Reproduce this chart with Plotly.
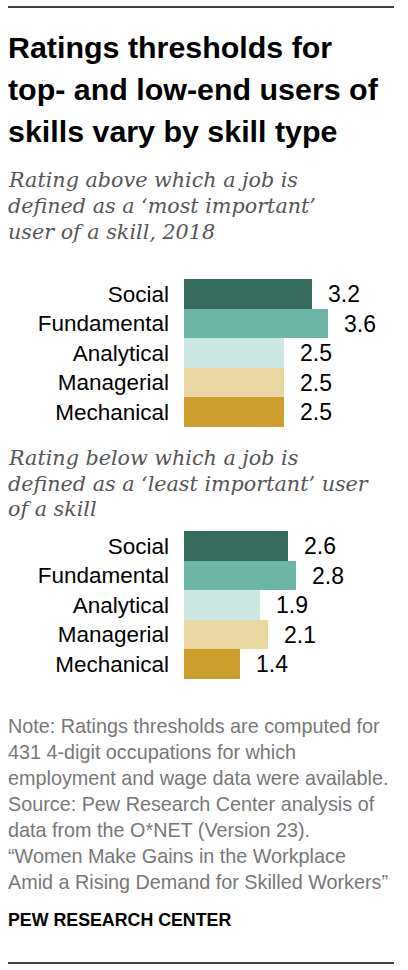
import plotly.graph_objects as go

W, H = 408, 970

# data
skills = ["Social", "Fundamental", "Analytical", "Managerial", "Mechanical"]
top_threshold = [3.2, 3.6, 2.5, 2.5, 2.5]
low_threshold = [2.6, 2.8, 1.9, 2.1, 1.4]
bar_colors = ["#356b5d", "#6db5a5", "#cae6e0", "#ebd7a3", "#cc9f2e"]

title_lines = ["Ratings thresholds for", "top- and low-end users of", "skills vary by skill type"]
sub1_lines = ["Rating above which a job is", "defined as a \u2018most important\u2019", "user of a skill, 2018"]
sub2_lines = ["Rating below which a job is", "defined as a \u2018least important\u2019 user", "of a skill"]
note_lines = [
    "Note: Ratings thresholds are computed for",
    "431 4-digit occupations for which",
    "employment and wage data were available.",
    "Source: Pew Research Center analysis of",
    "data from the O*NET (Version 23).",
    "\u201cWomen Make Gains in the Workplace",
    "Amid a Rising Demand for Skilled Workers\u201d",
]


def py(px):
    # pixel row -> paper y
    return 1 - px / H


fig = go.Figure()
fig.add_trace(go.Bar(x=top_threshold, y=skills, orientation="h",
                     marker=dict(color=bar_colors, line_width=0),
                     xaxis="x", yaxis="y", hoverinfo="skip"))
fig.add_trace(go.Bar(x=low_threshold, y=skills, orientation="h",
                     marker=dict(color=bar_colors, line_width=0),
                     xaxis="x2", yaxis="y2", hoverinfo="skip"))

x_dom = [184 / W, 1]
x_rng = [0, (W - 184) / 40]
xa = dict(domain=x_dom, range=x_rng, visible=False, fixedrange=True)
ya = dict(autorange="reversed", showgrid=False, zeroline=False, showline=False,
          ticks="", ticklabelstandoff=14, fixedrange=True,
          tickfont=dict(family="Liberation Sans, Arial, sans-serif", size=22.5, color="#000"))

fig.update_layout(
    width=W, height=H,
    margin=dict(l=0, r=0, t=0, b=0),
    paper_bgcolor="white", plot_bgcolor="white",
    showlegend=False, bargap=0,
    xaxis=dict(xa, anchor="y"),
    yaxis=dict(ya, domain=[py(427), py(279)], anchor="x"),
    xaxis2=dict(xa, anchor="y2"),
    yaxis2=dict(ya, domain=[py(679), py(531)], anchor="x2"),
)

annots = []
# value labels
for ax, vals in (("", top_threshold), ("2", low_threshold)):
    for s, v in zip(skills, vals):
        annots.append(dict(x=v, y=s, xref="x" + ax, yref="y" + ax, text=f"{v:.1f}",
                           showarrow=False, xanchor="left", yanchor="middle", xshift=14,
                           font=dict(family="Liberation Sans, Arial, sans-serif", size=23, color="#000")))


def text_line(txt, ypx, size, color, family, bold=False, italic=False):
    if bold:
        txt = f"<b>{txt}</b>"
    if italic:
        txt = f"<i>{txt}</i>"
    return dict(x=6 / W, y=py(ypx), xref="paper", yref="paper", text=txt, showarrow=False,
                xanchor="left", yanchor="middle", font=dict(family=family, size=size, color=color))


sans = "Liberation Sans, Arial, sans-serif"
serif = "DejaVu Serif, serif"
for i, t in enumerate(title_lines):
    annots.append(text_line(t, 47 + 42 * i, 30.4, "#000", sans, bold=True))
for i, t in enumerate(sub1_lines):
    annots.append(text_line(t, 180 + 26 * i, 20.7, "#555555", serif, italic=True))
for i, t in enumerate(sub2_lines):
    annots.append(text_line(t, 458 + 25.5 * i, 20.7, "#555555", serif, italic=True))
for i, t in enumerate(note_lines):
    annots.append(text_line(t, 726 + 26 * i, 19.8, "#777777", sans))
annots.append(text_line("PEW RESEARCH CENTER", 920, 17.8, "#000", sans, bold=True))

fig.update_layout(annotations=annots)

# top and bottom rules
for ypx in (7, 963):
    fig.add_shape(type="line", xref="paper", yref="paper", x0=8 / W, x1=394 / W,
                  y0=py(ypx), y1=py(ypx), line=dict(color="#000", width=1.3))

# page body has a default 8px margin; drop it so the figure sits at the window corner
fig.write_html("out.html", config={"displayModeBar": False},
               post_script="document.body.style.margin='0px';")
